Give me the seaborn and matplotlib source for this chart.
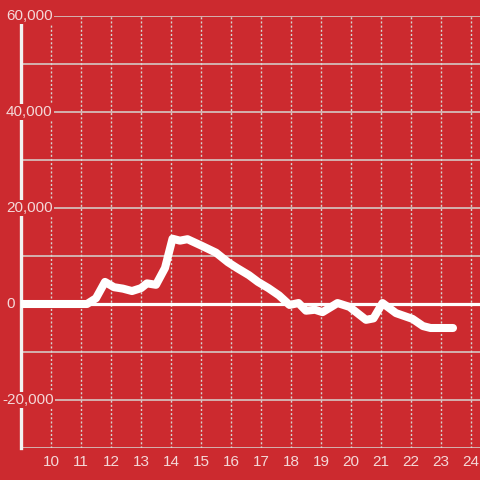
import matplotlib
matplotlib.use('Agg')
import matplotlib.pyplot as plt
import seaborn as sns

# ── Data ──────────────────────────────────────────────────────────────────────

hours = [9.0, 11.2, 11.5, 11.8, 12.1, 12.4, 12.7, 13.0, 13.2, 13.5, 13.8,
         14.05, 14.3, 14.55, 15.0, 15.5, 15.9, 16.2, 16.6, 16.9, 17.25,
         17.6, 17.95, 18.25, 18.5, 18.8, 19.05, 19.55, 19.95, 20.5, 20.75,
         21.05, 21.5, 22.05, 22.4, 22.65, 23.4]
values = [0, 0, 1200, 4600, 3500, 3200, 2700, 3300, 4300, 4000, 7500,
          13600, 13200, 13500, 12200, 10700, 8700, 7500, 6000, 4600, 3300,
          1800, -200, 200, -1400, -1200, -1700, 200, -600, -3300, -3000,
          200, -1900, -3100, -4600, -5000, -5000]

x_ticks = list(range(10, 25))
y_grid = list(range(-30000, 60001, 10000))
y_label_vals = [-20000, 0, 20000, 40000, 60000]
y_labels = ['-20,000', '0', '20,000', '40,000', '60,000']

RED = '#cc2a2f'
GRID = '#d6d6d2'
TEXT = '#f4d8d8'

# ── Style ─────────────────────────────────────────────────────────────────────

sns.set_style('white')
plt.rcParams['font.family'] = ['Liberation Sans', 'DejaVu Sans']

fig = plt.figure(figsize=(4.8, 4.8), dpi=100, facecolor=RED)
ax = fig.add_axes([21 / 480, 32 / 480, 459 / 480, 432 / 480])
ax.set_facecolor(RED)

sns.lineplot(x=hours, y=values, color='white', linewidth=5.8, ax=ax,
             zorder=4)
ax.axhline(0, color='white', linewidth=2.3, zorder=3)

ax.set_xlim(9.0, 24.3)
ax.set_ylim(-30000, 60000)

ax.set_xticks(x_ticks)
ax.set_xticklabels([str(h) for h in x_ticks])
ax.set_yticks(y_grid)
ax.set_yticklabels([])

ax.grid(axis='y', color=GRID, linewidth=1.1, linestyle='-')
ax.grid(axis='x', color=GRID, linewidth=1.0, linestyle=(0, (1.5, 1.5)))

ax.tick_params(axis='both', length=0, labelsize=11, labelcolor=TEXT)
ax.tick_params(axis='x', pad=5)

# y labels sit over the left spine, with a red box behind them
ytrans = ax.get_yaxis_transform()
for v, lab in zip(y_label_vals, y_labels):
    x0 = (2 - 21) / 459 if lab.startswith('-') else (6 - 21) / 459
    ax.text(x0, v, lab, transform=ytrans, ha='left', va='center',
            fontsize=11, color=TEXT, zorder=6, clip_on=False,
            bbox=dict(facecolor=RED, edgecolor='none', pad=1))

for side in ['top', 'right', 'bottom']:
    ax.spines[side].set_visible(False)
ax.spines['left'].set_color('#f2f2f2')
ax.spines['left'].set_linewidth(2.4)

fig.savefig('out.png', dpi=100, facecolor=RED)
